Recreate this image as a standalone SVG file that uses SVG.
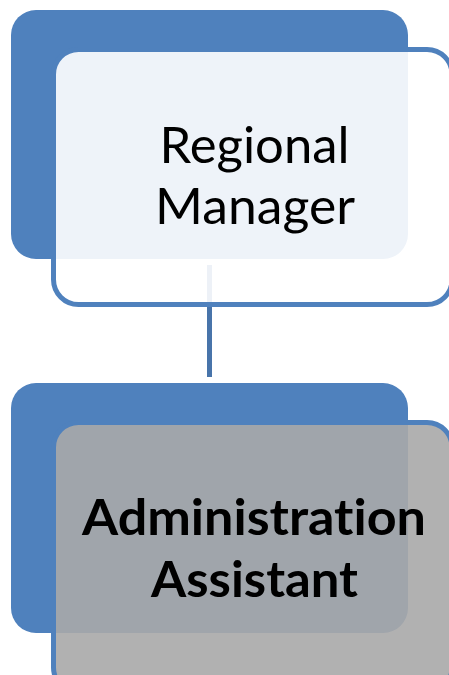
<svg xmlns="http://www.w3.org/2000/svg" width="449" height="675" viewBox="0 0 449 675">
  <style>
    .back { fill: #4F81BD; }
    .front { stroke: #4F81BD; stroke-width: 5; }
    .f1 { fill: #FFFFFF; fill-opacity: 0.9; }
    .f2 { fill: #A9A9A9; fill-opacity: 0.9; }
    .conn { stroke: #4874AA; stroke-width: 5; fill: none; }
    text { font-variant-ligatures: none; font-feature-settings: "liga" 0, "clig" 0, "dlig" 0; }
    .t1 { font-family: Lato, "Liberation Sans", Arial, sans-serif; font-size: 50px; fill: #000000; text-anchor: middle; }
    .t2 { font-family: Lato, "Liberation Sans", Arial, sans-serif; font-size: 50px; font-weight: bold; fill: #000000; text-anchor: middle; }
  </style>
  <rect width="449" height="675" fill="#FFFFFF"/>
  <g id="connectors">
    <line class="conn" x1="209.5" y1="265" x2="209.5" y2="377"/>
  </g>
  <g id="node-regional-manager">
    <rect class="back" x="11" y="10" width="397" height="249" rx="25" ry="25"/>
    <rect class="front f1" x="53.5" y="49.5" width="398.5" height="255" rx="25" ry="25"/>
    <text class="t1" x="254.5" y="163" textLength="190" lengthAdjust="spacingAndGlyphs">Regional</text>
    <text class="t1" x="255" y="224" textLength="200" lengthAdjust="spacingAndGlyphs">Manager</text>
  </g>
  <g id="node-administration-assistant">
    <rect class="back" x="11" y="383" width="397" height="250" rx="25" ry="25"/>
    <rect class="front f2" x="53.5" y="422.5" width="398.5" height="270" rx="25" ry="25"/>
    <text class="t2" x="254" y="535" textLength="344" lengthAdjust="spacingAndGlyphs">Administration</text>
    <text class="t2" x="254.5" y="597" textLength="207" lengthAdjust="spacingAndGlyphs">Assistant</text>
  </g>
</svg>
